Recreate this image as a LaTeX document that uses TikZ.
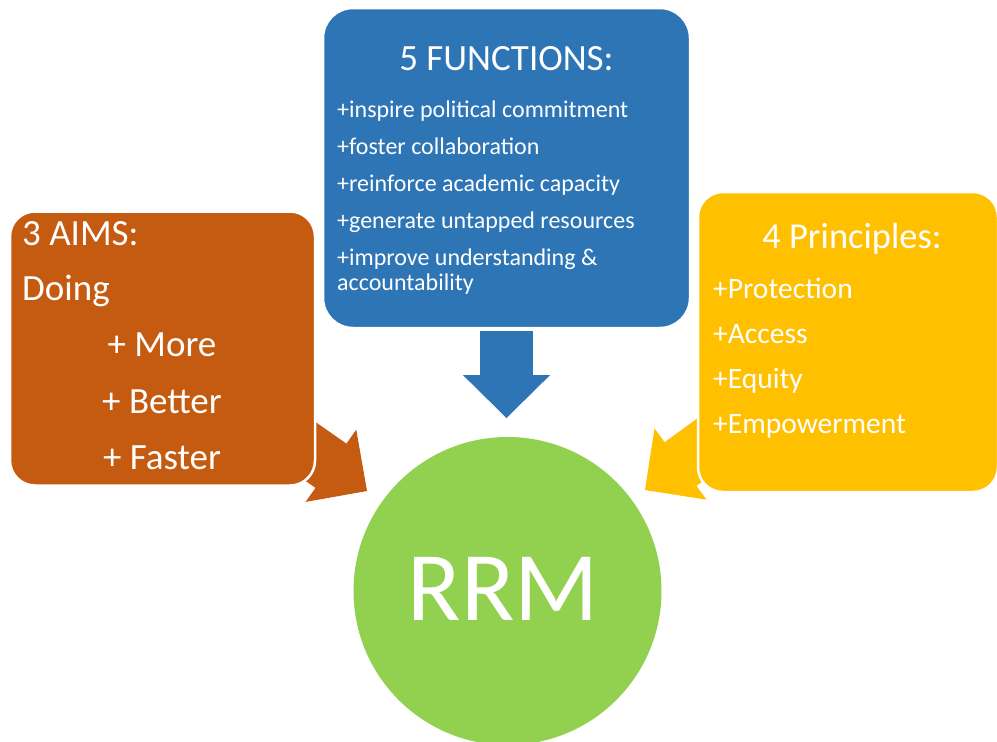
\documentclass[tikz,border=0pt]{standalone}
\usepackage{fontspec}
\setmainfont{Carlito}
\usetikzlibrary{arrows.meta}

\definecolor{funcblue}{HTML}{2E75B6}
\definecolor{aimorange}{HTML}{C55A11}
\definecolor{princyellow}{HTML}{FFC000}
\definecolor{rrmgreen}{HTML}{92D050}

\begin{document}
\begin{tikzpicture}[x=1pt, y=-1pt,
  box/.style={rectangle, rounded corners=25pt, draw=white, line width=2.5pt, inner sep=0pt},
  blockarrow/.style={draw=#1, line width=54pt, -{Triangle[width=88pt, length=44pt, line width=1pt]}},
  words/.style={text=white, inner sep=0pt, font=\fontsize{#1}{#1}\selectfont}]
\useasboundingbox[fill=white] (0,0) rectangle (997,742);

% block arrows towards RRM
\coordinate (functail) at (506.5,331);
\coordinate (functip) at (506.5,418);
\coordinate (aimtail) at (277,428);
\coordinate (aimtip) at (367,491);
\coordinate (princtail) at (734,425);
\coordinate (princtip) at (645,490);
\draw[blockarrow=funcblue, line width=53pt, -{Triangle[width=87pt, length=43pt, line width=1pt]}] (functail) -- (functip);
\draw[blockarrow=aimorange] (aimtail) -- (aimtip);
\draw[blockarrow=princyellow] (princtail) -- (princtip);

% boxes
\node[box, fill=funcblue, rounded corners=30pt, minimum width=367pt, minimum height=320pt] (functions) at (506.5,168) {};
\node[box, fill=aimorange, minimum width=305pt, minimum height=274pt] (aims) at (162.5,348.5) {};
\node[box, fill=princyellow, minimum width=300pt, minimum height=300pt] (principles) at (848,342) {};
\node[circle, fill=rrmgreen, minimum size=308pt, inner sep=0pt] (rrm) at (507.5,591) {};

% texts
\node[words=37, anchor=base] (functitle) at (506.5,70) {5 FUNCTIONS:};
\foreach \txt [count=\i] in {+inspire political commitment, +foster collaboration,
    +reinforce academic capacity, +generate untapped resources}
  \node[words=24, anchor=base west] (func\i) at (337,{117+37*(\i-1)}) {\txt};
\node[words=24, anchor=base west, align=left, font=\fontsize{24}{25}\selectfont] (func5) at (337,290)
  {+improve understanding \&\\accountability};

\node[words=37, anchor=base west] (aimtitle) at (22,245) {3 AIMS:};
\node[words=37, anchor=base west] (doing) at (22,300) {Doing};
\foreach \txt [count=\i] in {+ More, + Better, + Faster}
  \node[words=37, anchor=base] (aim\i) at (162,{300+56.5*\i}) {\txt};

\node[words=36.5, anchor=base] (princtitle) at (852,248) {4 Principles:};
\foreach \txt [count=\i] in {+Protection, +Access, +Equity, +Empowerment}
  \node[words=29.5, anchor=base west] (princ\i) at (713,{253+45*\i}) {\txt};

\node[words=98.5, anchor=base] (rrmlabel) at (503.5,620) {RRM};
\end{tikzpicture}
\end{document}
